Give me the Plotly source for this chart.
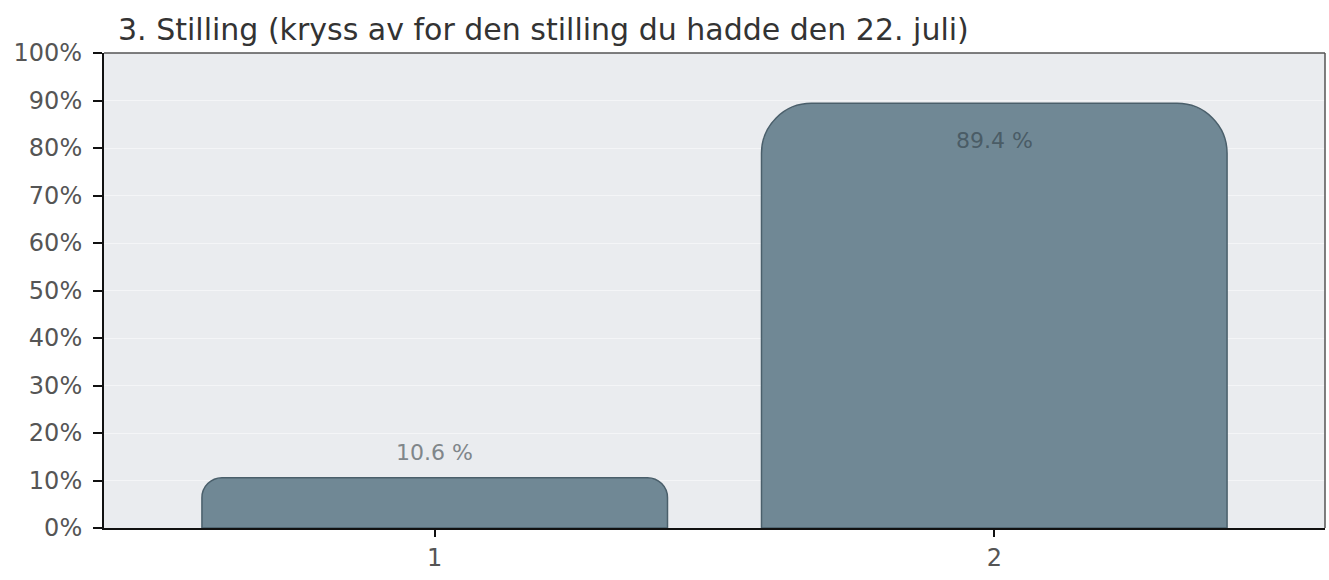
import plotly.graph_objects as go

title_text = "3. Stilling (kryss av for den stilling du hadde den 22. juli)"
categories = ["1", "2"]
values = [10.6, 89.4]
value_labels = ["10.6 %", "89.4 %"]
y_ticks = [0, 10, 20, 30, 40, 50, 60, 70, 80, 90, 100]
y_tick_labels = [f"{t}%" for t in y_ticks]

radii = [20, 50]
label_shifts = [25, -37]
label_colors = ["#80868a", "#4a5c66"]
FONT = "DejaVu Sans, Liberation Sans, Arial, sans-serif"

fig = go.Figure()
for i, (c, v) in enumerate(zip(categories, values)):
    fig.add_trace(go.Bar(
        x=[c], y=[v],
        width=0.832,
        marker=dict(color="#708895", cornerradius=radii[i],
                    line=dict(color="#4a5f6b", width=1.5)),
        showlegend=False,
        hoverinfo="skip",
    ))
    # category axis: annotation x given as category index
    fig.add_annotation(
        x=categories.index(c), y=v, text=value_labels[i], showarrow=False,
        yshift=label_shifts[i], xanchor="center", yanchor="middle",
        font=dict(family=FONT, size=22, color=label_colors[i]),
    )

fig.update_layout(
    width=1329, height=580,
    margin=dict(l=104, r=4, t=53, b=52, autoexpand=False),
    paper_bgcolor="white",
    plot_bgcolor="#eaecef",
    barmode="overlay",
    title=dict(text=title_text, x=118/1329, xanchor="left", y=1-29/580, yanchor="middle",
               automargin=False,
               font=dict(family=FONT, size=30, color="#333333")),
    font=dict(family=FONT, size=24, color="#555555"),
    xaxis=dict(
        type="category",
        categoryarray=categories, categoryorder="array",
        range=[-0.591, 1.591],
        automargin=False,
        showline=True, linecolor="#111111", linewidth=2,
        ticks="outside", ticklen=7, tickcolor="#111111", tickwidth=2,
        tickfont=dict(family=FONT, size=24, color="#555555"),
        showgrid=False, zeroline=False,
    ),
    yaxis=dict(
        range=[0, 100],
        automargin=False,
        tickvals=y_ticks, ticktext=y_tick_labels,
        showline=True, linecolor="#111111", linewidth=2,
        ticks="outside", ticklen=9, tickcolor="#111111", tickwidth=2,
        ticklabelstandoff=6,
        tickfont=dict(family=FONT, size=24, color="#555555"),
        showgrid=True, gridcolor="#f4f5f7", gridwidth=1,
        zeroline=False,
    ),
)
# top and right frame lines
fig.add_shape(type="line", xref="paper", yref="paper", x0=0, x1=1, y0=1, y1=1,
              line=dict(color="#555555", width=1.5))
fig.add_shape(type="line", xref="paper", yref="paper", x0=1, x1=1, y0=0, y1=1,
              line=dict(color="#555555", width=1.5))

fig.write_html(
    "out.html",
    config={"displayModeBar": False},
    post_script="document.body.style.margin='0';document.body.style.overflow='hidden';",
)
